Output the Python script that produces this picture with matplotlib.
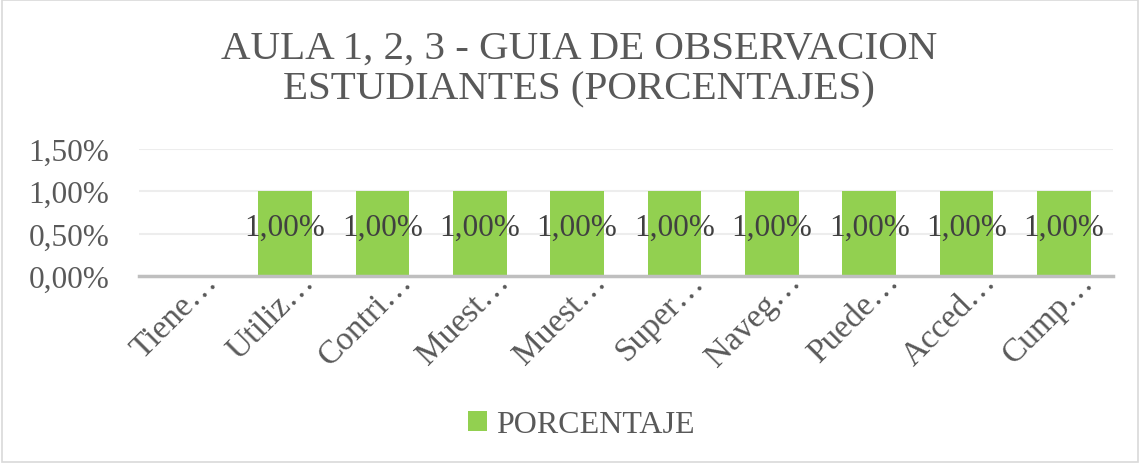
import matplotlib.pyplot as plt
import matplotlib.transforms as mtransforms
import numpy as np
from matplotlib.patches import Rectangle

categorias = ["Tiene…", "Utiliz…", "Contri…", "Muest…", "Muest…",
              "Super…", "Naveg…", "Puede…", "Acced…", "Cump…"]
porcentaje = [0.0, 0.01, 0.01, 0.01, 0.01, 0.01, 0.01, 0.01, 0.01, 0.01]
y_ticks = [0.0, 0.005, 0.01, 0.015]
y_labels = ["0,00%", "0,50%", "1,00%", "1,50%"]

plt.rcParams['font.family'] = ['Liberation Serif', 'DejaVu Serif']

verde = "#92D050"
gris = "#595959"
fs = 22.5

fig = plt.figure(figsize=(11.4, 4.64), dpi=100)
ax = fig.add_axes([0.122, 0.403, 0.854, 0.274])

x = np.arange(len(categorias))
ax.bar(x, porcentaje, width=0.55, color=verde, zorder=3, label="PORCENTAJE")

for xi, v in zip(x, porcentaje):
    if v > 0:
        ax.text(xi, v / 2 + 0.0007, f"{v*100:.2f}".replace(".", ",") + "%",
                ha="center", va="center", fontsize=fs, color="#404040", zorder=4)

ax.set_xlim(-0.5, len(categorias) - 0.5)
ax.set_ylim(0, 0.015)
ax.set_yticks(y_ticks)
ax.set_yticklabels(y_labels, fontsize=fs, color=gris)
ax.set_xticks(x)
ax.set_xticklabels(categorias, rotation=45, ha="right", rotation_mode="anchor",
                   fontsize=24, color=gris)
ax.tick_params(axis="both", length=0)
ax.tick_params(axis="y", pad=21.5)
ax.tick_params(axis="x", pad=2)
desplaza = mtransforms.ScaledTranslation(0.14, 0.13, fig.dpi_scale_trans)
for lbl in ax.get_xticklabels():
    lbl.set_transform(lbl.get_transform() + desplaza)

ax.grid(axis="y", color="#EDEDED", linewidth=1.5, zorder=0)
for s in ["top", "right", "left"]:
    ax.spines[s].set_visible(False)
ax.spines["bottom"].set_color("#BFBFBF")
ax.spines["bottom"].set_linewidth(2.5)
ax.spines["bottom"].set_zorder(5)

fig.text(0.508, 0.85, "AULA 1, 2, 3 - GUIA DE OBSERVACION\nESTUDIANTES (PORCENTAJES)",
         ha="center", va="center", fontsize=29.5, color=gris, linespacing=1.12)

fig.legend(loc="center", bbox_to_anchor=(0.51, 0.083), frameon=False, fontsize=23,
           handlelength=0.6, handleheight=0.6, handletextpad=0.3, labelcolor=gris)

fig.patches.append(Rectangle((0.002, 0.003), 0.996, 0.994, transform=fig.transFigure,
                             fill=False, edgecolor="#D9D9D9", linewidth=1.2))

fig.savefig("out.png", dpi=100)
